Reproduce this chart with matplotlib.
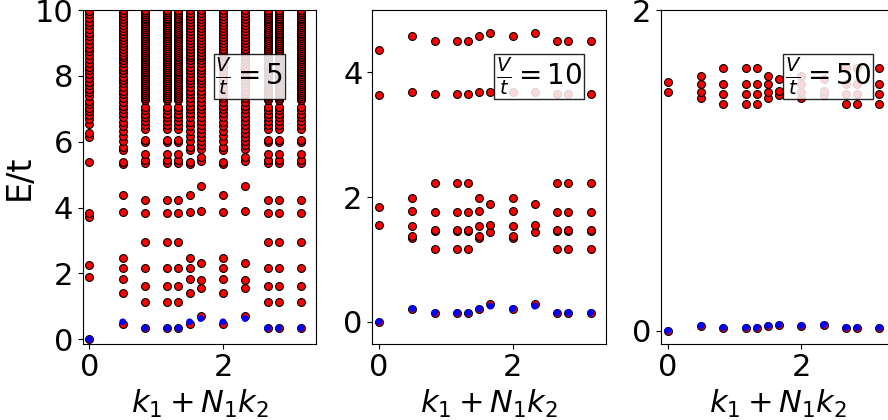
import matplotlib
matplotlib.use("Agg")
import matplotlib.pyplot as plt

# momentum positions k1 + N1 k2 and the symmetry class of each column
k_vals = [0.0, 0.5, 0.833, 1.167, 1.333, 1.5, 1.667, 2.0, 2.333, 2.667, 2.833, 3.167]
k_class = ["0", "B", "A", "A", "A", "B", "C", "B", "C", "A", "A", "A"]

# ---------------- V/t = 5 ----------------
v5_red_0 = [0.00, 1.89, 2.27, 3.70, 3.85, 5.38, 6.15, 6.27, 6.55, 6.68, 6.80, 6.92, 7.02,
            7.15, 7.25, 7.38, 7.50, 7.60, 7.72, 7.83, 7.95, 8.05, 8.18, 8.28, 8.40, 8.52,
            8.63, 8.75, 8.86, 8.97, 9.08, 9.20, 9.31, 9.42, 9.54, 9.65, 9.76, 9.88, 9.98]
v5_red_B = [0.46, 1.41, 1.84, 2.17, 2.48, 3.87, 4.38, 5.31, 5.39, 5.74, 5.85, 6.02, 6.18,
            6.32, 6.47, 6.60, 6.74, 6.86, 6.98, 7.10, 7.21, 7.33, 7.44, 7.55, 7.66, 7.77,
            7.88, 7.98, 8.08, 8.18, 8.28, 8.38, 8.47, 8.56, 8.65, 8.74, 8.83, 8.92, 9.01,
            9.10, 9.19, 9.28, 9.37, 9.46, 9.55, 9.64, 9.73, 9.82, 9.91, 9.99]
v5_red_C = [0.70, 1.57, 1.81, 2.32, 3.89, 4.66, 5.42, 5.55, 5.78, 5.90, 6.03, 6.14, 6.26,
            6.38, 6.50, 6.62, 6.74, 6.86, 6.98, 7.10, 7.22, 7.33, 7.44, 7.55, 7.66, 7.77,
            7.88, 7.98, 8.08, 8.18, 8.28, 8.38, 8.47, 8.56, 8.65, 8.74, 8.83, 8.92, 9.01,
            9.10, 9.19, 9.28, 9.37, 9.46, 9.55, 9.64, 9.73, 9.82, 9.91, 9.99]
v5_red_A = [0.34, 1.13, 1.61, 2.17, 2.95, 3.84, 4.22, 5.34, 5.44, 5.64, 5.98, 6.05, 6.40,
            6.52, 6.62, 6.74, 6.85, 6.96, 7.05, 7.28, 7.34, 7.40, 7.46, 7.52, 7.58, 7.64,
            7.70, 7.76, 7.82, 7.88, 7.93, 7.99, 8.05, 8.11, 8.16, 8.22, 8.28, 8.34, 8.39,
            8.45, 8.51, 8.57, 8.62, 8.68, 8.74, 8.80, 8.85, 8.91, 8.97, 9.03, 9.08, 9.14,
            9.20, 9.26, 9.31, 9.37, 9.43, 9.49, 9.54, 9.60, 9.66, 9.72, 9.77, 9.83, 9.89,
            9.95, 10.0]
v5_blue = {"0": 0.00, "A": 0.34, "B": 0.53, "C": 0.63}

# ---------------- V/t = 10 ----------------
v10_red_0 = [0.00, 1.56, 1.84, 3.63, 4.36]
v10_red_B = [0.21, 1.34, 1.37, 1.53, 1.77, 1.98, 3.69, 4.58]
v10_red_A = [0.144, 1.175, 1.45, 1.47, 1.76, 2.22, 3.66, 4.51]
v10_red_C = [0.29, 1.44, 1.56, 1.89, 3.69, 4.63]
v10_blue = {"0": 0.00, "A": 0.144, "B": 0.21, "C": 0.25}

# ---------------- V/t = 50 ----------------
v50_red_0 = [0.00, 1.489, 1.553]
v50_red_B = [0.031, 1.45, 1.488, 1.540, 1.588]
v50_red_A = [0.019, 1.412, 1.475, 1.537, 1.638]
v50_red_C = [0.037, 1.47, 1.498, 1.568]
v50_blue = {"0": 0.00, "A": 0.019, "B": 0.031, "C": 0.037}

panels = [
    dict(red={"0": v5_red_0, "A": v5_red_A, "B": v5_red_B, "C": v5_red_C}, blue=v5_blue,
         ylim=(-0.13, 10.0), yticks=[0, 2, 4, 6, 8, 10], label=r"$\frac{V}{t}=5$"),
    dict(red={"0": v10_red_0, "A": v10_red_A, "B": v10_red_B, "C": v10_red_C}, blue=v10_blue,
         ylim=(-0.35, 5.0), yticks=[0, 2, 4], label=r"$\frac{V}{t}=10$"),
    dict(red={"0": v50_red_0, "A": v50_red_A, "B": v50_red_B, "C": v50_red_C}, blue=v50_blue,
         ylim=(-0.081, 2.0), yticks=[0, 2], label=r"$\frac{V}{t}=50$"),
]

fig = plt.figure(figsize=(8.88, 4.2), dpi=100)
lefts = [0.0931, 0.4193, 0.7444]
for i, p in enumerate(panels):
    ax = fig.add_axes([lefts[i], 0.182, 0.2633, 0.794])
    xs, ys = [], []
    bx, by = [], []
    for k, c in zip(k_vals, k_class):
        for e in p["red"][c]:
            xs.append(k)
            ys.append(e)
        bx.append(k)
        by.append(p["blue"][c])
    ax.scatter(xs, ys, s=32, c="red", edgecolors="black", linewidths=0.8, zorder=2)
    ax.scatter(bx, by, s=24, c="blue", edgecolors="none", zorder=3)
    ax.set_xlim(-0.1, 3.4)
    ax.set_ylim(*p["ylim"])
    ax.set_xticks([0, 2])
    ax.set_yticks(p["yticks"])
    ax.tick_params(labelsize=22)
    ax.set_xlabel(r"$k_1 + N_1 k_2$", fontsize=22)
    if i == 0:
        ax.set_ylabel("E/t", fontsize=24, labelpad=-1)
    ax.text(0.713, 0.80, p["label"], transform=ax.transAxes, fontsize=20,
            ha="center", va="center", zorder=5,
            bbox=dict(boxstyle="square,pad=0.06", facecolor="white",
                      edgecolor="black", alpha=0.85))

fig.savefig("out.png", dpi=100)
